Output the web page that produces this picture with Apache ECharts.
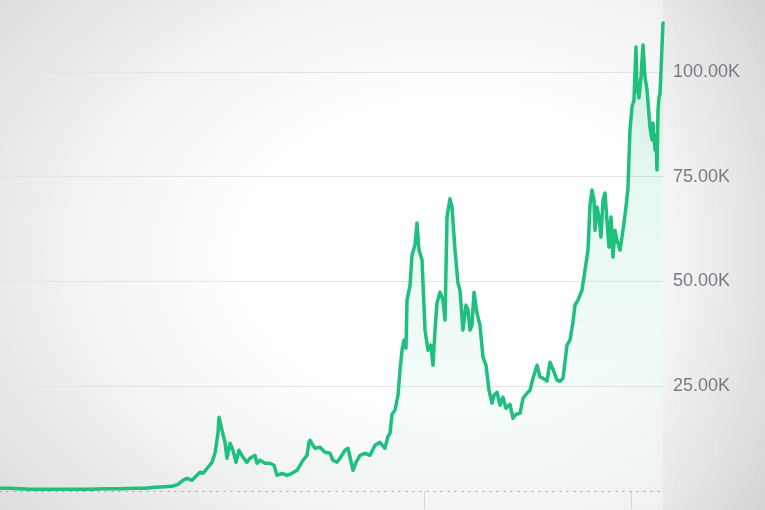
<!DOCTYPE html>
<html>
<head>
<meta charset="utf-8">
<script src="https://cdn.jsdelivr.net/npm/echarts@6/dist/echarts.min.js"></script>
<style>
  html, body { margin: 0; padding: 0; }
  body {
    width: 765px; height: 510px; overflow: hidden;
    background: radial-gradient(ellipse 75% 80% at 60% 50%, #ffffff 38%, #f2f2f2 68%, #dedede 100%);
  }
  #chart { width: 765px; height: 510px; }
</style>
</head>
<body>
<div id="chart"></div>
<script>
// Time in decimal years, price in thousands of USD
const years = [
  2014.330, 2014.497, 2014.663, 2014.830, 2015.079, 2015.329, 2015.579, 2015.829, 2016.079, 2016.328,
  2016.578, 2016.745, 2016.911, 2017.078, 2017.194, 2017.294, 2017.377, 2017.444, 2017.527, 2017.661,
  2017.711, 2017.794, 2017.860, 2017.910, 2017.960, 2017.977, 2018.027, 2018.077, 2018.110, 2018.160,
  2018.210, 2018.260, 2018.310, 2018.377, 2018.443, 2018.493, 2018.577, 2018.610, 2018.660, 2018.743,
  2018.826, 2018.893, 2018.943, 2019.026, 2019.109, 2019.193, 2019.276, 2019.376, 2019.442, 2019.476,
  2019.492, 2019.542, 2019.576, 2019.659, 2019.742, 2019.825, 2019.875, 2019.942, 2019.992, 2020.075,
  2020.125, 2020.209, 2020.258, 2020.325, 2020.408, 2020.492, 2020.575, 2020.658, 2020.741, 2020.791,
  2020.825, 2020.858, 2020.908, 2020.958, 2020.991, 2021.025, 2021.058, 2021.091, 2021.108, 2021.158,
  2021.191, 2021.241, 2021.274, 2021.308, 2021.358, 2021.408, 2021.458, 2021.507, 2021.541, 2021.574,
  2021.607, 2021.657, 2021.707, 2021.741, 2021.774, 2021.824, 2021.857, 2021.907, 2021.957, 2021.990,
  2022.040, 2022.090, 2022.124, 2022.157, 2022.190, 2022.224, 2022.273, 2022.323, 2022.373, 2022.423,
  2022.473, 2022.523, 2022.557, 2022.607, 2022.657, 2022.706, 2022.756, 2022.823, 2022.873, 2022.923,
  2022.990, 2023.040, 2023.106, 2023.156, 2023.206, 2023.273, 2023.323, 2023.373, 2023.439, 2023.489,
  2023.539, 2023.606, 2023.656, 2023.706, 2023.772, 2023.822, 2023.872, 2023.905, 2023.955, 2024.022,
  2024.072, 2024.122, 2024.155, 2024.189, 2024.222, 2024.239, 2024.272, 2024.305, 2024.338, 2024.372,
  2024.405, 2024.438, 2024.472, 2024.505, 2024.538, 2024.572, 2024.605, 2024.655, 2024.688, 2024.721,
  2024.755, 2024.788, 2024.821, 2024.855, 2024.888, 2024.921, 2024.938, 2024.971, 2025.005, 2025.038,
  2025.071, 2025.105, 2025.154, 2025.188, 2025.204, 2025.238, 2025.255, 2025.271, 2025.288, 2025.305,
  2025.321, 2025.338, 2025.371
];
const prices = [
  0.64, 0.64, 0.53, 0.41, 0.41, 0.41, 0.41, 0.41, 0.53, 0.53,
  0.64, 0.64, 0.88, 1.00, 1.12, 1.60, 2.56, 3.03, 2.56, 4.47,
  4.23, 5.66, 6.85, 9.00, 13.78, 17.60, 14.50, 11.60, 7.81, 11.39,
  9.72, 6.85, 9.72, 8.05, 6.85, 7.81, 8.52, 6.62, 7.33, 6.62,
  6.62, 6.14, 3.75, 4.23, 3.75, 4.23, 4.94, 7.33, 8.52, 11.63,
  12.11, 10.92, 10.20, 10.44, 9.24, 9.00, 7.33, 6.85, 7.81, 9.72,
  10.20, 4.94, 6.85, 8.52, 9.00, 8.52, 10.92, 11.63, 10.20, 13.06,
  13.78, 18.32, 19.27, 22.86, 28.83, 33.61, 36.00, 34.09, 45.55, 49.13,
  56.30, 58.69, 63.94, 57.50, 55.10, 38.39, 33.61, 34.80, 30.02, 38.39,
  44.83, 47.46, 45.55, 40.79, 65.43, 69.73, 67.81, 57.50, 49.61, 47.94,
  38.39, 44.36, 43.17, 38.39, 39.58, 47.46, 42.45, 39.58, 31.93, 30.02,
  24.05, 20.95, 22.86, 23.57, 20.47, 22.38, 19.75, 20.70, 17.36, 18.32,
  18.56, 22.14, 23.33, 24.05, 26.92, 30.02, 27.16, 26.92, 26.20, 30.74,
  29.07, 26.44, 26.20, 26.92, 34.80, 36.00, 40.31, 44.36, 45.55, 47.94,
  52.71, 57.50, 68.24, 71.82, 69.43, 62.20, 67.76, 65.37, 60.60, 69.43,
  71.10, 64.65, 58.21, 65.37, 55.82, 62.22, 59.88, 57.50, 60.60, 63.94,
  67.76, 72.54, 86.15, 91.65, 93.32, 105.98, 96.44, 93.80, 98.82, 106.46,
  98.82, 95.72, 86.87, 83.76, 87.82, 81.40, 84.94, 76.60, 90.94, 94.04,
  94.80, 100.46, 111.70
];
const yTicks = [0, 25, 50, 75, 100];
const xTickMarks = [2021.39, 2024.85];

const lineColor = '#1fbf7e';
const chart = echarts.init(document.getElementById('chart'), null, { renderer: 'canvas' });
chart.setOption({
  backgroundColor: 'transparent',
  animation: false,
  graphic: [{
    type: 'rect', left: 663, top: 0, z: -1,
    shape: { width: 102, height: 510 },
    style: {
      fill: new echarts.graphic.LinearGradient(0, 0, 1, 0, [
        { offset: 0, color: 'rgba(0,0,0,0.035)' },
        { offset: 1, color: 'rgba(0,0,0,0.09)' }
      ])
    }
  }],
  grid: { left: 0, right: 102, top: 0, bottom: 19, containLabel: false },
  xAxis: {
    type: 'value',
    min: years[0],
    max: years[years.length - 1],
    axisLine: { show: true, lineStyle: { color: '#9a9a9a', type: [1, 6], width: 1 } },
    axisTick: { show: true, customValues: xTickMarks, length: 18, lineStyle: { color: '#d4d4d4' } },
    axisLabel: { show: false },
    splitLine: { show: false }
  },
  yAxis: {
    type: 'value',
    position: 'right',
    min: 0,
    max: 117.18,
    interval: 25,
    axisLine: { show: false },
    axisTick: { show: false },
    axisLabel: {
      show: true,
      showMaxLabel: false,
      margin: 10,
      color: '#767b82',
      fontSize: 18,
      fontFamily: 'Liberation Sans, Arial, sans-serif',
      formatter: v => (yTicks.indexOf(v) > 0 ? v.toFixed(2) + 'K' : '')
    },
    splitLine: { show: true, showMinLine: false, showMaxLine: false, lineStyle: { color: '#e4e4e4', width: 1 } }
  },
  series: [{
    type: 'line',
    data: years.map((y, i) => [y, prices[i]]),
    showSymbol: false,
    smooth: false,
    lineStyle: { color: lineColor, width: 3.5, join: 'round', cap: 'round' },
    itemStyle: { color: lineColor },
    areaStyle: {
      color: new echarts.graphic.LinearGradient(0, 0, 0, 1, [
        { offset: 0, color: 'rgba(31,191,126,0.24)' },
        { offset: 1, color: 'rgba(31,191,126,0.02)' }
      ])
    },
    z: 3
  }]
});
</script>
</body>
</html>
